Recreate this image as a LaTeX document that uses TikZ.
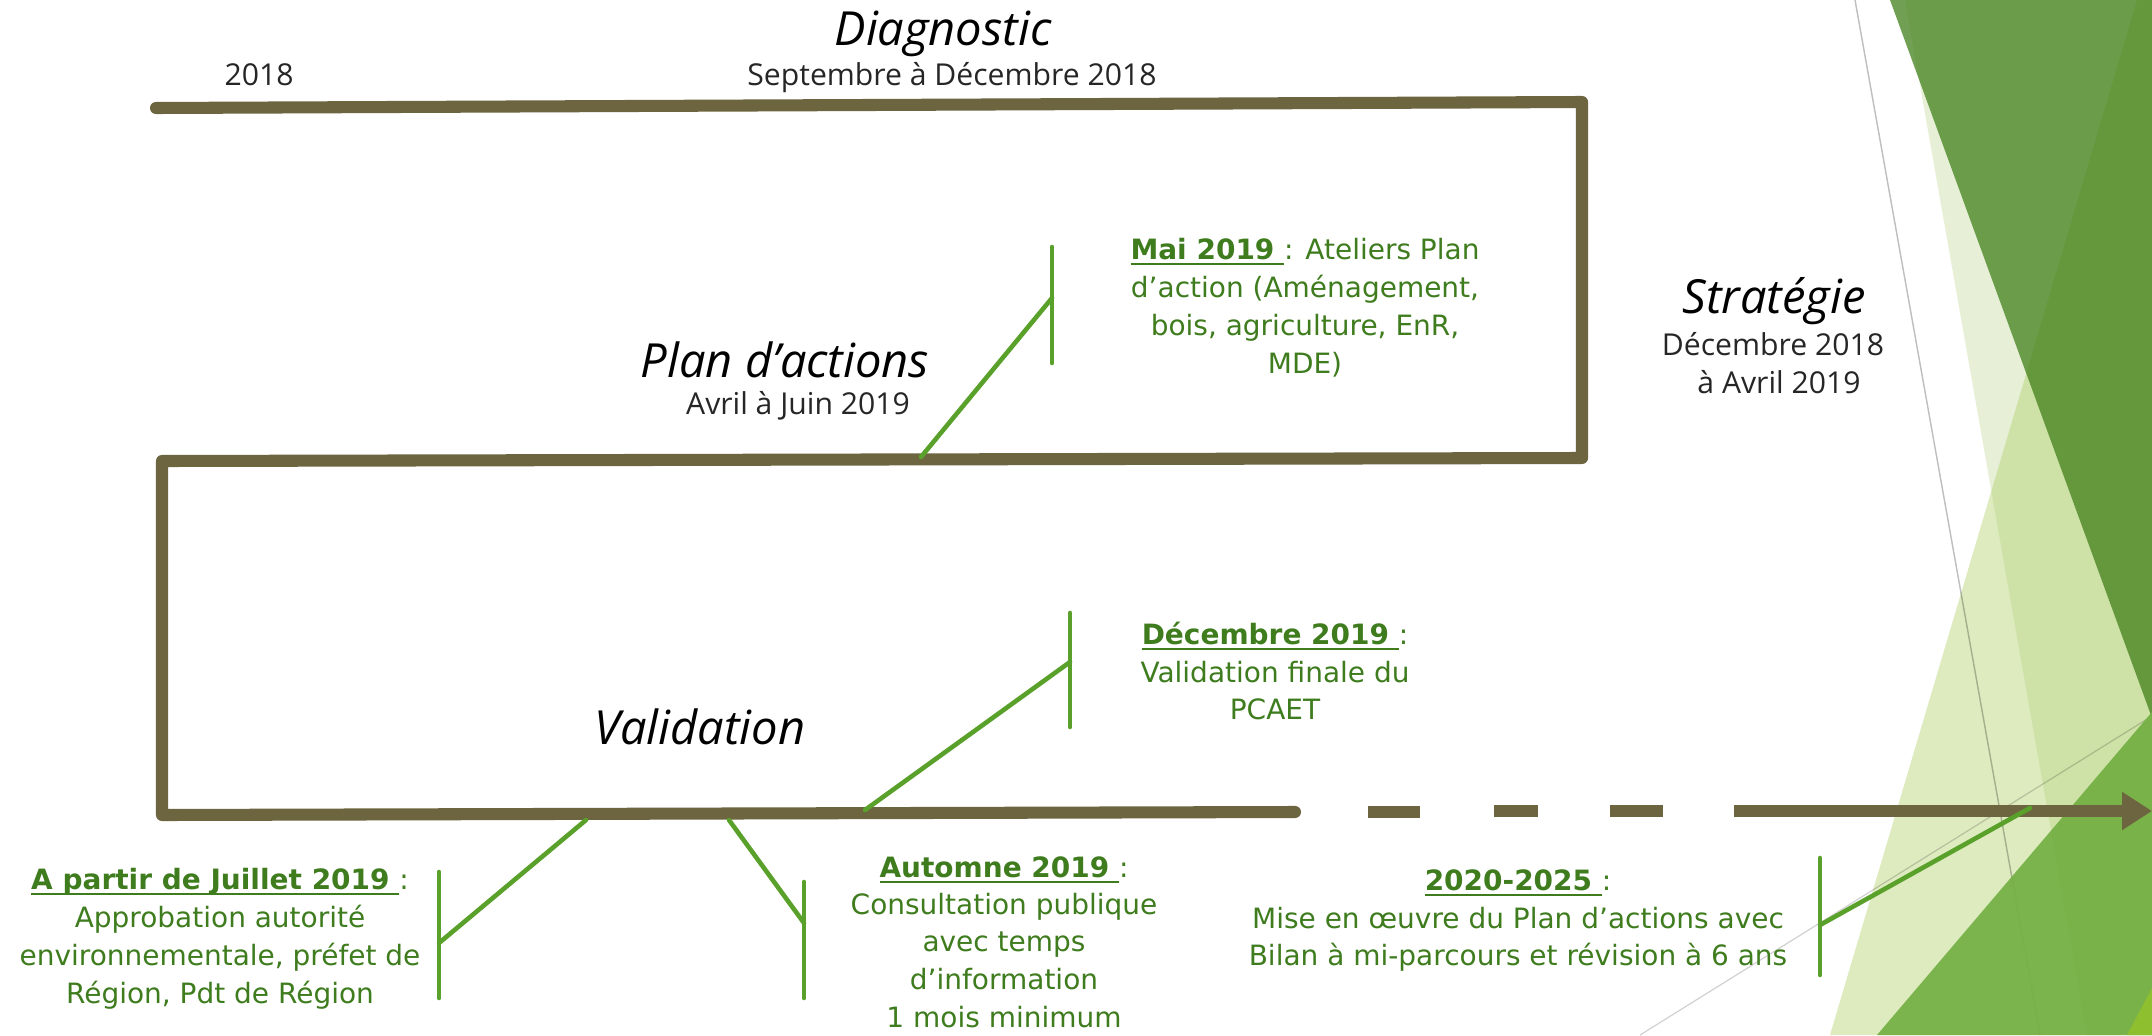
\documentclass[tikz,border=0pt]{standalone}
\usepackage{fontspec}
\setmainfont{Open Sans}
\newfontfamily\gfont{DejaVu Sans}
\usetikzlibrary{arrows.meta}
\definecolor{brownline}{HTML}{6D6440}
\definecolor{tickgreen}{HTML}{59A12B}
\definecolor{textgreen}{HTML}{3E7C1E}
\definecolor{subgray}{HTML}{262626}
\definecolor{facetA}{HTML}{42801A}
\definecolor{facetB}{HTML}{AACD61}
\definecolor{facetC}{HTML}{B2D07D}
\definecolor{facetD}{HTML}{76B046}
\definecolor{facetE}{HTML}{8DBF2E}
\newcommand\ulbox[1]{\setbox0\hbox{#1}\rlap{\rule[-2.4pt]{\wd0}{0.6pt}}\box0}
\tikzset{
  gtext/.style={text=textgreen, font=\gfont\fontsize{11.6}{14}\selectfont, anchor=base, inner sep=0pt},
  htext/.style={text=black, font=\itshape\fontsize{19.5}{23}\selectfont, anchor=base, inner sep=0pt},
  stext/.style={text=subgray, font=\fontsize{12.5}{15}\selectfont, anchor=base, inner sep=0pt},
  brownpath/.style={draw=brownline, line width=5pt, line join=round, line cap=round},
  dashseg/.style={draw=brownline, line width=5pt, line cap=butt},
  tickline/.style={draw=tickgreen, line width=1.9pt, line cap=round, line join=round},
  facetline/.style={draw=black, draw opacity=0.25, line width=0.6pt},
}
\begin{document}
\begin{tikzpicture}[x=0.014574cm, y=-0.014574cm]
\useasboundingbox (0,0) rectangle (2152,1035);
\fill[white] (0,0) rectangle (2152,1035);
% background facets
\begin{scope}
\clip (0,0) rectangle (2152,1035);
\fill[facetC, opacity=0.3] (1905,0) -- (2152,0) -- (2152,1035) -- (2087,1035) -- cycle;
\fill[facetB, opacity=0.4] (2137,0) -- (2152,0) -- (2152,1035) -- (1830,1035) -- cycle;
\draw[facetline] (1855,0) -- (2040,1035);
\draw[facetline, draw opacity=0.18, line width=0.5pt] (2152,716) -- (1640,1035);
\fill[facetA, opacity=0.75] (1890,0) -- (2152,0) -- (2152,718) -- cycle;
\fill[facetD, opacity=0.95] (2152,712) -- (2152,1035) -- (1877,1035) -- cycle;
\fill[facetE] (2127,1035) -- (2152,988) -- (2152,1035) -- cycle;
\end{scope}
% brown timeline
\coordinate (p1) at (156,108);
\coordinate (p2) at (1582,102);
\coordinate (p3) at (1582,458);
\coordinate (p4) at (162,461);
\coordinate (p5) at (162,815);
\coordinate (p6) at (1295,812);
\draw[brownpath] (p1) -- (p2) -- (p3) -- (p4) -- (p5) -- (p6);
\coordinate (d1a) at (1368,812); \coordinate (d1b) at (1420,812);
\coordinate (d2a) at (1494,811); \coordinate (d2b) at (1538,811);
\coordinate (d3a) at (1610,811); \coordinate (d3b) at (1663,811);
\coordinate (e1) at (1734,811); \coordinate (e2) at (2152,811);
\draw[dashseg] (d1a) -- (d1b);
\draw[dashseg] (d2a) -- (d2b);
\draw[dashseg] (d3a) -- (d3b);
\draw[dashseg, -{Triangle[length=12.4pt,width=15pt]}] (e1) -- (e2);
% green ticks
\coordinate (m0) at (921,457); \coordinate (m1) at (1052,298);
\coordinate (m2) at (1052,247); \coordinate (m3) at (1052,363);
\draw[tickline] (m0) -- (m1); \draw[tickline] (m2) -- (m3);
\coordinate (v0) at (865,810); \coordinate (v1) at (1070,662);
\coordinate (v2) at (1070,613); \coordinate (v3) at (1070,727);
\draw[tickline] (v0) -- (v1); \draw[tickline] (v2) -- (v3);
\coordinate (j0) at (586,820); \coordinate (j1) at (439,943);
\coordinate (j2) at (439,872); \coordinate (j3) at (439,998);
\draw[tickline] (j0) -- (j1); \draw[tickline] (j2) -- (j3);
\coordinate (a0) at (729,820); \coordinate (a1) at (804,923);
\coordinate (a2) at (804,882); \coordinate (a3) at (804,998);
\draw[tickline] (a0) -- (a1); \draw[tickline] (a2) -- (a3);
\coordinate (z0) at (2030,808); \coordinate (z1) at (1820,925);
\coordinate (z2) at (1820,858); \coordinate (z3) at (1820,975);
\draw[tickline] (z0) -- (z1); \draw[tickline] (z2) -- (z3);
% black labels
\node[stext] (y2018) at (259,85) {2018};
\node[htext] (diag) at (943,45) {Diagnostic};
\node[stext] (diagd) at (952,85) {Septembre à Décembre 2018};
\node[htext] (strat) at (1774,313) {Stratégie};
\node[stext] (stratd1) at (1773,355) {Décembre 2018};
\node[stext] (stratd2) at (1779,393) {à Avril 2019};
\node[htext] (plan) at (785,377) {Plan d’actions};
\node[stext] (pland) at (798,414) {Avril à Juin 2019};
\node[htext] (valid) at (700,744) {Validation};
% green labels
\node[gtext] (mai1) at (1305,259) {\ulbox{\bfseries Mai 2019 }: Ateliers Plan};
\node[gtext] (mai2) at (1305,297) {d’action (Aménagement,};
\node[gtext] (mai3) at (1305,335) {bois, agriculture, EnR,};
\node[gtext] (mai4) at (1305,373) {MDE)};
\node[gtext] (dec1) at (1275,644) {\ulbox{\bfseries Décembre 2019 }:};
\node[gtext] (dec2) at (1275,682) {Validation finale du};
\node[gtext] (dec3) at (1275,719) {PCAET};
\node[gtext] (jul1) at (220,889) {\ulbox{\bfseries A partir de Juillet 2019 }:};
\node[gtext] (jul2) at (220,927) {Approbation autorité};
\node[gtext] (jul3) at (220,965) {environnementale, préfet de};
\node[gtext] (jul4) at (220,1003) {Région, Pdt de Région};
\node[gtext] (aut1) at (1004,877) {\ulbox{\bfseries Automne 2019 }:};
\node[gtext] (aut2) at (1004,914) {Consultation publique};
\node[gtext] (aut3) at (1004,951) {avec temps};
\node[gtext] (aut4) at (1004,989) {d’information};
\node[gtext] (aut5) at (1004,1027) {1 mois minimum};
\node[gtext] (pl1) at (1518,890) {\ulbox{\bfseries 2020-2025 }:};
\node[gtext] (pl2) at (1518,928) {Mise en œuvre du Plan d’actions avec};
\node[gtext] (pl3) at (1518,965) {Bilan à mi-parcours et révision à 6 ans};
\end{tikzpicture}
\end{document}
